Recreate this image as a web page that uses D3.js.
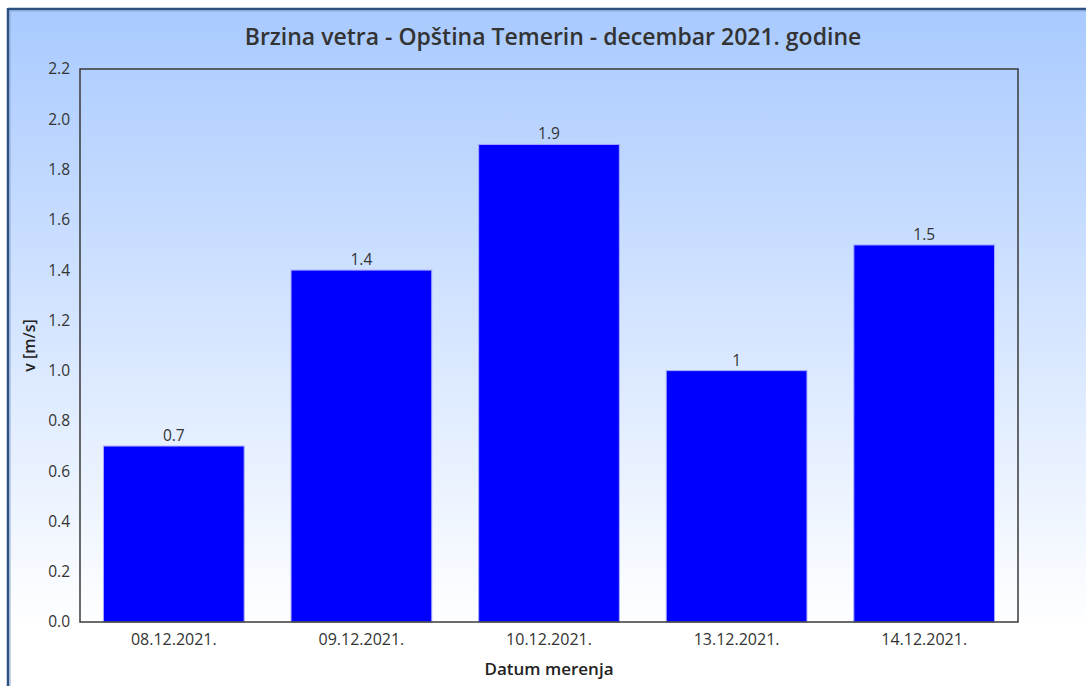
<!DOCTYPE html>
<html><head><meta charset="utf-8">
<script src="https://cdn.jsdelivr.net/npm/d3@7"></script>
<style>html,body{margin:0;padding:0;background:#fff;}svg{display:block;}</style>
</head><body>
<svg id="c" width="1086" height="686"></svg>
<script>
const categories = ["08.12.2021.", "09.12.2021.", "10.12.2021.", "13.12.2021.", "14.12.2021."];
const values = [0.7, 1.4, 1.9, 1.0, 1.5];
const valueLabels = ["0.7", "1.4", "1.9", "1", "1.5"];
const yTicks = [0, 0.2, 0.4, 0.6, 0.8, 1.0, 1.2, 1.4, 1.6, 1.8, 2.0, 2.2];
const title = "Brzina vetra - Opština Temerin - decembar 2021. godine";
const xTitle = "Datum merenja";
const yTitle = "v [m/s]";

const svg = d3.select("#c");
const font = "'Open Sans', 'Noto Sans', sans-serif";
const defs = svg.append("defs");
const g = defs.append("linearGradient").attr("id","bg").attr("x1",0).attr("y1",0).attr("x2",0).attr("y2",1);
g.append("stop").attr("offset","0%").attr("stop-color","#a9caff");
g.append("stop").attr("offset","90%").attr("stop-color","#ffffff");
g.append("stop").attr("offset","100%").attr("stop-color","#ffffff");

svg.append("rect").attr("x",8).attr("y",9).attr("width",1090).attr("height",690).attr("fill","url(#bg)");
svg.append("line").attr("x1",8).attr("x2",1086).attr("y1",9).attr("y2",9).attr("stroke","#2b5283").attr("stroke-width",2.5);
svg.append("line").attr("x1",8).attr("x2",8).attr("y1",8).attr("y2",686).attr("stroke","#2b5283").attr("stroke-width",2.5);
svg.append("line").attr("x1",10).attr("x2",1086).attr("y1",11).attr("y2",11).attr("stroke","#8fa9cf").attr("stroke-width",1);
svg.append("line").attr("x1",10).attr("x2",10).attr("y1",11).attr("y2",686).attr("stroke","#8fa9cf").attr("stroke-width",1);

const m = {l:80, t:69, r:1018, b:622};
const x = d3.scaleBand().domain(categories).range([m.l, m.r]).paddingInner(0.25).paddingOuter(0.125);
const y = d3.scaleLinear().domain([0, 2.2]).range([m.b, m.t]);

svg.append("g").selectAll("rect").data(values).join("rect")
  .attr("x",(d,i)=>x(categories[i])).attr("width",x.bandwidth())
  .attr("y",d=>y(d)).attr("height",d=>y(0)-y(d))
  .attr("fill","#0000ff").attr("stroke","#a8a8ff").attr("stroke-width",1);

svg.append("g").selectAll("text").data(values).join("text")
  .attr("x",(d,i)=>x(categories[i])+x.bandwidth()/2).attr("y",d=>y(d)-5)
  .attr("text-anchor","middle").attr("font-family",font).attr("font-size",15.5).attr("fill","#333")
  .text((d,i)=>valueLabels[i]);

// plot border
svg.append("rect").attr("x",m.l).attr("y",m.t).attr("width",m.r-m.l).attr("height",m.b-m.t)
  .attr("fill","none").attr("stroke","#3a3a3a").attr("stroke-width",1.5);

const ya = svg.append("g").attr("transform",`translate(${m.l},0)`)
  .call(d3.axisLeft(y).tickValues(yTicks).tickFormat(d3.format(".1f")).tickSize(0).tickPadding(10));
ya.select(".domain").remove();
ya.selectAll("text").attr("font-family",font).attr("font-size",15.5).attr("fill","#333");

const xa = svg.append("g").attr("transform",`translate(0,${m.b})`)
  .call(d3.axisBottom(x).tickSize(0).tickPadding(12));
xa.select(".domain").remove();
xa.selectAll("text").attr("font-family",font).attr("font-size",16).attr("fill","#333");

svg.append("text").attr("x",553).attr("y",45).attr("text-anchor","middle")
  .attr("font-family",font).attr("font-size",23).attr("font-weight","600").attr("fill","#333").text(title);
svg.append("text").attr("x",549).attr("y",675).attr("text-anchor","middle")
  .attr("font-family",font).attr("font-size",17).attr("font-weight","600").attr("fill","#222").text(xTitle);
svg.append("text").attr("transform",`translate(35,${(m.t+m.b)/2}) rotate(-90)`).attr("text-anchor","middle")
  .attr("font-family",font).attr("font-size",16).attr("font-weight","600").attr("fill","#222").text(yTitle);
</script>
</body></html>
